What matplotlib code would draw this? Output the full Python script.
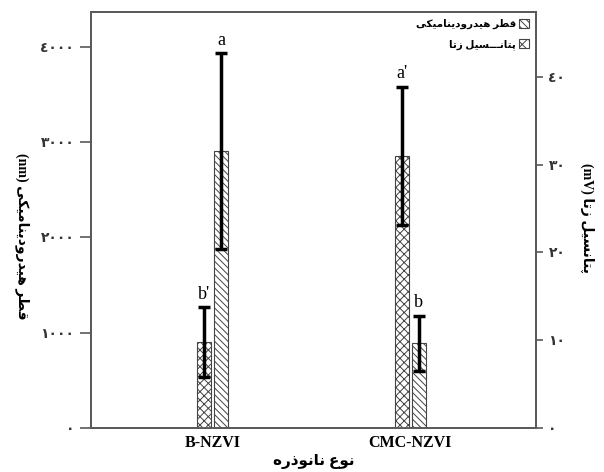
import numpy as np
import matplotlib
matplotlib.use('Agg')
import matplotlib.pyplot as plt
from matplotlib.patches import Patch

# data
categories = ['B-NZVI', 'CMC-NZVI']
hydro_size = [2910, 890]        # nm, left axis
hydro_err = [1030, 290]
zeta_pot = [9.8, 31.0]          # mV, right axis
zeta_err = [4.0, 7.9]
hydro_letters = ['a', 'b']
zeta_letters = ["b'", "a'"]
left_ticks = [0, 1000, 2000, 3000, 4000]
right_ticks = [0, 10, 20, 30, 40]

# Arabic presentation forms: isolated, final, initial, medial
FORMS = {
    'ا': ('\ufe8d', '\ufe8e', None, None),
    'د': ('\ufea9', '\ufeaa', None, None),
    'ذ': ('\ufeab', '\ufeac', None, None),
    'ر': ('\ufead', '\ufeae', None, None),
    'ز': ('\ufeaf', '\ufeb0', None, None),
    'و': ('\ufeed', '\ufeee', None, None),
    'ت': ('\ufe95', '\ufe96', '\ufe97', '\ufe98'),
    'س': ('\ufeb1', '\ufeb2', '\ufeb3', '\ufeb4'),
    'ط': ('\ufec1', '\ufec2', '\ufec3', '\ufec4'),
    'ع': ('\ufec9', '\ufeca', '\ufecb', '\ufecc'),
    'ق': ('\ufed5', '\ufed6', '\ufed7', '\ufed8'),
    'ل': ('\ufedd', '\ufede', '\ufedf', '\ufee0'),
    'م': ('\ufee1', '\ufee2', '\ufee3', '\ufee4'),
    'ن': ('\ufee5', '\ufee6', '\ufee7', '\ufee8'),
    'ه': ('\ufee9', '\ufeea', '\ufeeb', '\ufeec'),
    'پ': ('\ufb56', '\ufb57', '\ufb58', '\ufb59'),
    'ک': ('\ufb8e', '\ufb8f', '\ufb90', '\ufb91'),
    'ی': ('\ufbfc', '\ufbfd', '\ufbfe', '\ufbff'),
    'ـ': ('ـ', 'ـ', 'ـ', 'ـ'),
}


def rtl(s):
    out = []
    for i, ch in enumerate(s):
        if ch not in FORMS:
            out.append(ch)
            continue
        prev = s[i - 1] if i > 0 else ''
        nxt = s[i + 1] if i + 1 < len(s) else ''
        join_prev = prev in FORMS and FORMS[prev][2] is not None
        join_next = FORMS[ch][2] is not None and nxt in FORMS
        iso, fin, ini, med = FORMS[ch]
        if join_prev and join_next:
            out.append(med)
        elif join_prev:
            out.append(fin)
        elif join_next:
            out.append(ini)
        else:
            out.append(iso)
    return ''.join(out)[::-1]


def ar_digits(v):
    return str(v).translate(str.maketrans('0123456789', '٠١٢٣٤٥٦٧٨٩'))


plt.rcParams['font.family'] = ['Liberation Serif', 'DejaVu Sans']
plt.rcParams['hatch.linewidth'] = 0.7
plt.rcParams['hatch.color'] = '#333333'

gray = '#5a5a5a'
fig = plt.figure(figsize=(6.04, 4.72), dpi=100)
ax = fig.add_axes([0.1507, 0.0932, 0.7367, 0.8814])
ax2 = ax.twinx()

x = np.arange(len(categories))
w = 0.07
off = 0.0425

ax.bar(x + off, hydro_size, w, color='white', edgecolor='#444444', linewidth=0.8,
       hatch='\\\\\\\\\\', zorder=2)
ax.errorbar(x + off, hydro_size, yerr=hydro_err, fmt='none', ecolor='black',
            elinewidth=2.5, capsize=4.5, capthick=2.5, zorder=3)
ax2.bar(x - off, zeta_pot, w, color='white', edgecolor='#444444', linewidth=0.8,
        hatch='xxxx', zorder=2)
ax2.errorbar(x - off, zeta_pot, yerr=zeta_err, fmt='none', ecolor='black',
             elinewidth=2.5, capsize=4.5, capthick=2.5, zorder=3)

for i in range(len(categories)):
    ax.annotate(hydro_letters[i], (x[i] + off, hydro_size[i] + hydro_err[i]),
                xytext=(0, 3), textcoords='offset points', ha='center', va='bottom',
                fontsize=13)
    ax2.annotate(zeta_letters[i], (x[i] - off, zeta_pot[i] + zeta_err[i]),
                 xytext=(0, 3), textcoords='offset points', ha='center', va='bottom',
                 fontsize=13)

ax.set_xlim(-0.615, 1.635)
ax.set_ylim(0, 4367)
ax2.set_ylim(0, 47.4)

ax.set_xticks(x)
ax.set_xticklabels(categories, fontsize=11.5, fontweight='bold')
ax.tick_params(axis='x', length=0, pad=5)

ax.set_yticks(left_ticks)
ax.set_yticklabels([ar_digits(v) for v in left_ticks], fontsize=10,
                   fontweight='bold', color='#333333')
ax.tick_params(axis='y', length=8, width=1.2, color=gray, pad=4)
ax2.set_yticks(right_ticks)
ax2.set_yticklabels([ar_digits(v) for v in right_ticks], fontsize=10,
                    fontweight='bold', color='#333333')
ax2.tick_params(axis='y', length=5, width=1.2, color=gray, pad=4)

for a in (ax, ax2):
    for sp in a.spines.values():
        sp.set_color(gray)
        sp.set_linewidth(1.3)

ax.set_ylabel('(nm) ' + rtl('قطر هیدرودینامیکی'), rotation=270, fontsize=10,
              fontweight='bold', va='center', ha='center')
ax.yaxis.set_label_coords(-0.155, 0.46)
ax2.set_ylabel('(mV) ' + rtl('پتانسیل زتا'), rotation=270, fontsize=10,
               fontweight='bold', va='center', ha='center')
ax2.yaxis.set_label_coords(1.115, 0.505)
ax.set_xlabel(rtl('نوع نانوذره'), fontsize=11, fontweight='bold', labelpad=2)

handles = [Patch(facecolor='white', edgecolor='#444444', hatch='\\\\\\\\\\', linewidth=0.8),
           Patch(facecolor='white', edgecolor='#444444', hatch='xxx', linewidth=0.8)]
labels = [rtl('قطر هیدرودینامیکی'), rtl('پتانـــسیل زتا')]
ax2.legend(handles, labels, loc='upper right', frameon=False, markerfirst=False,
           handlelength=0.9, handleheight=0.9, handletextpad=0.3, labelspacing=0.9,
           borderaxespad=0.3, prop={'size': 7.5, 'weight': 'bold'})

fig.savefig('out.png', dpi=100)
